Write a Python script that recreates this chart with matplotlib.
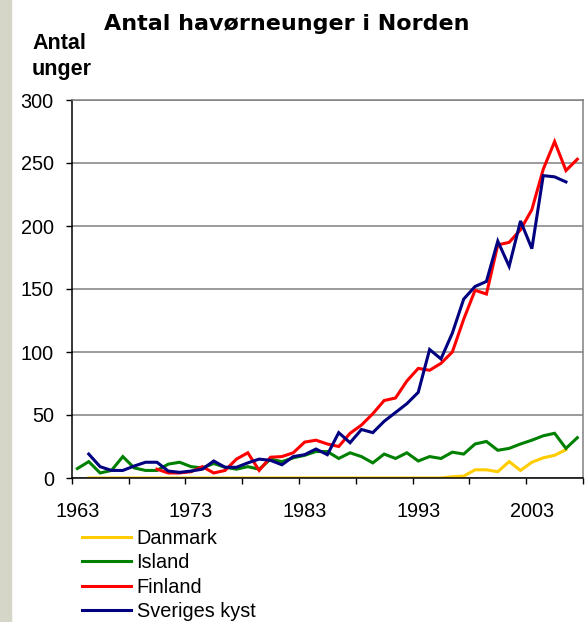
import numpy as np
import matplotlib.pyplot as plt
from matplotlib.patches import Rectangle

# havoern data
danmark_years = np.arange(1964, 2007)
danmark = [0] * 32 + [1, 1.5, 6.5, 6.5, 5, 13, 6, 12.5, 16, 18, 22.5]

island_years = np.arange(1963, 2008)
island = [7.5, 13, 4, 6, 17, 8, 6, 6, 11, 12.5,
          9, 8, 11.5, 8.5, 7, 9, 7, 15, 13, 16,
          18, 21, 21, 15.5, 20, 17, 12, 19, 15.5, 20,
          13.5, 17, 15.5, 20.5, 19, 27, 29, 22, 23.5, 27,
          30, 33.5, 35.5, 23.5, 32]

finland_years = np.arange(1970, 2008)
finland = [7, 4, 4, 5, 9, 4, 6, 15, 20, 6,
           16.5, 17, 20, 28.5, 30, 27, 25, 35.5, 42, 51,
           61.5, 63.5, 77, 87, 85.5, 91, 100, 126, 149, 146,
           185, 187, 197, 213, 245, 267, 244, 253]

sverige_years = np.arange(1964, 2007)
sverige = [19, 9, 6, 6, 9.5, 12.5, 12.5, 5.5, 4.5, 5.5,
           7, 13.5, 8.5, 8.5, 12, 15, 14, 10.5, 17, 18.5,
           23, 18.5, 36, 28, 38.5, 36, 45, 52, 59, 68,
           102, 94.5, 115, 142, 152, 156, 188, 168, 204, 182,
           240, 239, 235]

labels = ['Danmark', 'Island', 'Finland', 'Sveriges kyst']
colors = ['#FFCC00', '#008000', '#FF0000', '#000080']

plt.rcParams['font.family'] = ['Liberation Sans', 'DejaVu Sans']

fig = plt.figure(figsize=(5.87, 6.22), dpi=100)
fig.patches.append(Rectangle((0, 0), 11 / 587, 1, transform=fig.transFigure,
                             color='#d6d6c8', zorder=0))

ax = fig.add_axes([71.7 / 587, 1 - 478 / 622, (583 - 71.7) / 587, 378 / 622])

series = [(danmark_years, danmark), (island_years, island),
          (finland_years, finland), (sverige_years, sverige)]
for (xs, ys), lab, col in zip(series, labels, colors):
    ax.plot(xs, ys, color=col, lw=2.2, label=lab, solid_joinstyle='miter')

ax.set_xlim(1962.5, 2007.5)
ax.set_ylim(0, 300)
ax.set_yticks(np.arange(0, 301, 50))
ax.yaxis.grid(True, color='#808080', lw=1.1)
ax.set_axisbelow(True)

# tick marks between categories, labels under every 10th year
ax.set_xticks(np.arange(1962.5, 2008, 5))
ax.set_xticklabels([])
ax.set_xticks(np.arange(1963, 2008, 10), minor=True)
ax.set_xticklabels([str(y) for y in range(1963, 2008, 10)], minor=True)
ax.tick_params(axis='x', which='major', length=4.3, width=1, color='black')
ax.tick_params(axis='x', which='minor', length=0, pad=17, labelsize=14.3)
ax.tick_params(axis='y', length=4.3, width=1, pad=8.6, labelsize=14.3)

for s in ['top', 'right']:
    ax.spines[s].set_color('#808080')
    ax.spines[s].set_linewidth(1.1)
for s in ['left', 'bottom']:
    ax.spines[s].set_color('black')
    ax.spines[s].set_linewidth(1.1)

fig.text(287 / 587, 1 - 24 / 622, 'Antal havørneunger i Norden',
         fontsize=16, fontweight='bold', family='DejaVu Sans',
         ha='center', va='center')
fig.text(32 / 587, 1 - 33 / 622, 'Antal\nunger', fontsize=15.5,
         fontweight='bold', ha='left', va='top', linespacing=1.3)

fig.legend(loc='upper left', bbox_to_anchor=(82 / 587, 1 - 529 / 622),
           frameon=False, fontsize=14.3, handlelength=2.45,
           handletextpad=0.3, labelspacing=0.27, borderpad=0,
           borderaxespad=0)

fig.savefig('out.png', dpi=100)
